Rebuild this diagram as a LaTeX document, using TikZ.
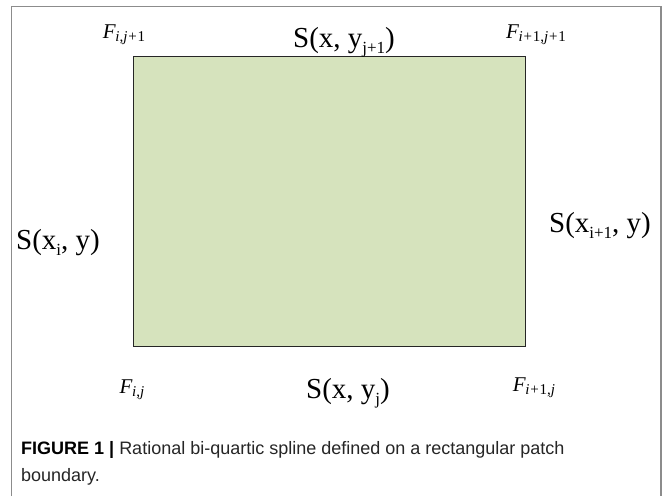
\documentclass[tikz,border=0pt]{standalone}
\usepackage{fontspec}
\setmainfont{Liberation Serif}
\setsansfont{Liberation Sans}
\newcommand{\lowsub}[1]{\raisebox{-0.2em}{\fontsize{17}{17}\selectfont #1}}
\newcommand{\cornerlabel}[1]{{\fontsize{21}{21}\selectfont\textit{F}}\kern-0.5pt\raisebox{-0.32em}{\fontsize{15}{15}\selectfont #1}}
\newcommand{\pl}{\kern0.8pt+\kern0.8pt}
\begin{document}
\begin{tikzpicture}[x=1pt,y=-1pt,
  lbl/.style={font=\fontsize{29}{32}\selectfont, inner sep=0pt},
  corner/.style={inner sep=0pt},
  patch/.style={draw=black!85, line width=1.3pt, fill=patchgreen}]
\definecolor{patchgreen}{RGB}{214,227,189}
\definecolor{framegray}{RGB}{140,140,140}
\useasboundingbox (0,0) rectangle (664,496);
\fill[white] (0,0) rectangle (664,496);
\draw[framegray, line width=1.2pt] (11.5,496) -- (11.5,6.5) -- (661,6.5) -- (661,496);
\node[patch, minimum width=392pt, minimum height=290pt, anchor=north west] (rect) at (133,56) {};
\node[corner] (f1) at (124,35) {\cornerlabel{\textit{i},\textit{j}\pl 1}};
\node[lbl] (top) at (344,42) {S(x, y\lowsub{j+1})};
\node[corner] (f2) at (536,35) {\cornerlabel{\textit{i}\pl 1,\textit{j}\pl 1}};
\node[lbl] (left) at (58,243) {S(x\lowsub{i}, y)};
\node[lbl] (right) at (600,226) {S(x\lowsub{i+1}, y)};
\node[corner] (f3) at (132,390) {\cornerlabel{\textit{i},\textit{j}}};
\node[lbl] (bot) at (348,393) {S(x, y\lowsub{j})};
\node[corner] (f4) at (534,388) {\cornerlabel{\textit{i}\pl 1,\textit{j}}};
\node[font=\sffamily\fontsize{18}{27}\selectfont, anchor=north west, align=left, inner sep=0pt, text=black!85] (cap) at (21,441)
  {\textbf{\color{black}FIGURE 1 |} Rational bi-quartic spline defined on a rectangular patch\\boundary.};
\end{tikzpicture}
\end{document}
